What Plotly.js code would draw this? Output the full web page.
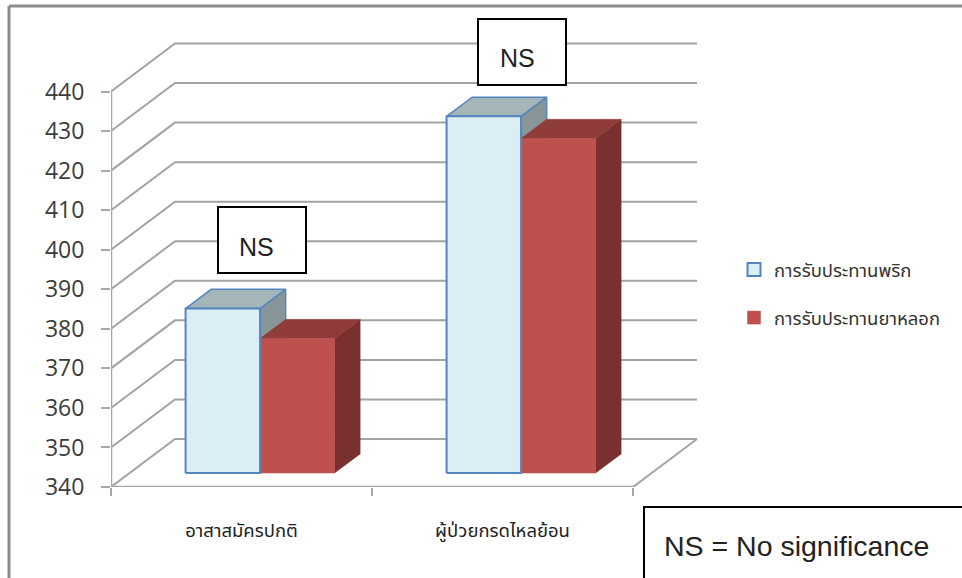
<!DOCTYPE html>
<html>
<head>
<meta charset="utf-8">
<script src="https://cdn.plot.ly/plotly-3.0.1.min.js"></script>
<style>html,body{margin:0;padding:0;background:#fff}</style>
</head>
<body>
<div id="chart" style="width:962px;height:578px"></div>
<script>
// Chart values
const categories = ['อาสาสมัครปกติ', 'ผู้ป่วยกรดไหลย้อน'];
const seriesNames = ['การรับประทานพริก', 'การรับประทานยาหลอก'];
const chiliValues = [381.6, 430.2];
const placeboValues = [374.0, 424.6];
const yTicks = [340, 350, 360, 370, 380, 390, 400, 410, 420, 430, 440];
const xBoundaries = [0, 1, 2];
const xCenters = [0.5, 1.5];

// Page geometry
const W = 962, H = 578;
const margin = {l: 111, r: 264, t: 30, b: 91, pad: 0};
const pxPerCat = 261, pxPerUnit = 3.955;

// Oblique projection: depth 0 is the front of the floor, depth 1 the back wall
const depthX = 64 / pxPerCat, depthY = 48 / pxPerUnit;
const proj = (x, v, d) => [x + d * depthX, v + d * depthY];

const xRange = [0, (W - margin.l - margin.r) / pxPerCat];
const yRange = [340, 340 + (H - margin.t - margin.b) / pxPerUnit];

// Polyline builder: each entry is a list of [x, value, depth] corners
function path(polys) {
  const xs = [], ys = [];
  polys.forEach((poly, i) => {
    if (i) { xs.push(null); ys.push(null); }
    poly.forEach(c => { const p = proj(c[0], c[1], c[2]); xs.push(p[0]); ys.push(p[1]); });
  });
  return {x: xs, y: ys};
}

// Bar geometry inside a category slot
const barW = 0.2854, dFront = 0.29, dBack = 0.69, base = 340;
const frontFace = (x, v) => [[x, base, dFront], [x + barW, base, dFront], [x + barW, v, dFront], [x, v, dFront], [x, base, dFront]];
const topFace = (x, v) => [[x, v, dFront], [x + barW, v, dFront], [x + barW, v, dBack], [x, v, dBack], [x, v, dFront]];
const sideFace = (x, v) => [[x + barW, base, dFront], [x + barW, base, dBack], [x + barW, v, dBack], [x + barW, v, dFront], [x + barW, base, dFront]];

const chiliLeft = xCenters.map(c => c - barW);
const placeboLeft = xCenters.slice();

function face(builder, lefts, vals, fill, line, lw) {
  return Object.assign(path(lefts.map((x, i) => builder(x, vals[i]))), {
    type: 'scatter', mode: 'lines', fill: 'toself', fillcolor: fill,
    line: {color: line, width: lw}, showlegend: false, hoverinfo: 'skip', cliponaxis: false
  });
}

// Walls, floor and the front axis lines
const GRID = '#a3a3a3';
const wallLines = yTicks.map(v => [[0, v, 0], [0, v, 1], [xBoundaries[2], v, 1]]);
const grid = Object.assign(path(wallLines.concat([
  [[xBoundaries[2], 340, 1], [xBoundaries[2], 340, 0]]
])), {type: 'scatter', mode: 'lines', line: {color: GRID, width: 2}, showlegend: false, hoverinfo: 'skip', cliponaxis: false});
const axes = Object.assign(path([
  [[0, yTicks[yTicks.length - 1], 0], [0, 340, 0], [xBoundaries[2], 340, 0]]
]), {type: 'scatter', mode: 'lines', line: {color: '#a8a8a8', width: 2.5}, showlegend: false, hoverinfo: 'skip', cliponaxis: false});

// Legend keys
const legendKey = (name, fill, line, lw, group) => ({
  type: 'scatter', mode: 'markers', x: [null], y: [null], name, legendgroup: group,
  marker: {symbol: 'square', size: 13, color: fill, line: {color: line, width: lw}}
});

const BLUE = '#5585c0';
const traces = [
  grid, axes,
  face(sideFace, chiliLeft, chiliValues, '#889699', BLUE, 1.5),
  face(topFace, chiliLeft, chiliValues, '#a5b6b8', BLUE, 1.5),
  face(sideFace, placeboLeft, placeboValues, '#7a302e', '#7a302e', 0.5),
  face(topFace, placeboLeft, placeboValues, '#8f3c3a', '#8f3c3a', 0.5),
  face(frontFace, placeboLeft, placeboValues, '#c0504d', '#c0504d', 0.5),
  face(frontFace, chiliLeft, chiliValues, '#dbeef4', BLUE, 2),
  legendKey(seriesNames[0], '#dbeef4', BLUE, 2, 'a'),
  legendKey(seriesNames[1], '#c0504d', '#c0504d', 0.5, 'b')
];

// Pixel to paper helpers for the boxed notes
const px = x => (x - margin.l) / (W - margin.l - margin.r);
const py = y => 1 - (y - margin.t) / (H - margin.t - margin.b);
const box = (x0, y0, x1, y1) => ({
  type: 'rect', xref: 'paper', yref: 'paper', layer: 'above',
  x0: px(x0), x1: px(x1), y0: py(y1), y1: py(y0),
  fillcolor: '#fff', line: {color: '#000', width: 2}
});
const frame = (x0, y0, x1, y1) => ({
  type: 'line', xref: 'paper', yref: 'paper', layer: 'below',
  x0: px(x0), x1: px(x1), y0: py(y0), y1: py(y1),
  line: {color: '#8c8c8c', width: 3}
});
const note = (text, x, y, size, anchor) => ({
  text, xref: 'paper', yref: 'paper', x: px(x), y: py(y), showarrow: false,
  xanchor: anchor, yanchor: 'middle',
  font: {family: 'Liberation Sans, Arial, sans-serif', size, color: '#222'}
});

const THAI = '"Noto Sans Thai", "Noto Sans", "DejaVu Sans", sans-serif';

const layout = {
  width: W, height: H, margin,
  paper_bgcolor: '#fff', plot_bgcolor: '#fff',
  showlegend: true,
  legend: {
    x: px(734), y: py(251), xanchor: 'left', yanchor: 'top',
    tracegroupgap: 21, bgcolor: 'rgba(0,0,0,0)',
    font: {family: THAI, size: 18.5, color: '#333'}
  },
  xaxis: {
    range: xRange, showgrid: false, zeroline: false, showline: false,
    tickmode: 'array', tickvals: xCenters, ticktext: categories, ticks: '',
    ticklabelstandoff: 30,
    tickfont: {family: THAI, size: 18.5, color: '#222'},
    minor: {tickmode: 'array', tickvals: xBoundaries, ticks: 'outside', ticklen: 8, tickwidth: 2, tickcolor: '#a8a8a8', showgrid: false}
  },
  yaxis: {
    range: yRange, showgrid: false, zeroline: false, showline: false,
    tickmode: 'array', tickvals: yTicks, ticks: 'outside', ticklen: 9, tickwidth: 2, tickcolor: '#a8a8a8',
    ticklabelstandoff: 12,
    tickfont: {family: '"Open Sans", sans-serif', size: 23, color: '#3c3c3c'}
  },
  shapes: [
    frame(9, 6, 962, 6),
    frame(9, 6, 9, 578),
    box(218, 207, 306, 273),
    box(478, 19, 566, 85),
    box(644, 507, 970, 590)
  ],
  annotations: [
    note('NS', 256.5, 247, 25, 'center'),
    note('NS', 517, 58, 25, 'center'),
    note('NS = No significance', 662, 546, 28.5, 'left')
  ]
};

Plotly.newPlot('chart', traces, layout, {displayModeBar: false, responsive: false});
</script>
</body>
</html>
